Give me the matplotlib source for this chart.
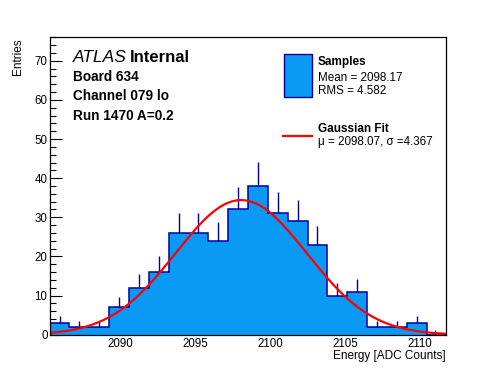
import numpy as np
import matplotlib
matplotlib.use('Agg')
import matplotlib.pyplot as plt
from matplotlib.patches import Rectangle
from matplotlib.lines import Line2D
from matplotlib.ticker import MultipleLocator

plt.rcParams['font.family'] = ['Liberation Sans', 'DejaVu Sans']

# histogram range and counts per bin (20 bins)
x_lo, x_hi = 2085.3, 2111.75
counts = [3, 2, 2, 7, 12, 16, 26, 26, 24, 32, 38, 31, 29, 23, 10, 11, 2, 2, 3, 0]

# gaussian fit
fit_mu = 2098.07
fit_sigma = 4.367
fit_amp = 34.4

mean_txt = 'Mean = 2098.17'
rms_txt = 'RMS = 4.582'
fit_txt = '\u03bc = 2098.07, \u03c3 =4.367'
info_lines = ['Board 634', 'Channel 079 lo', 'Run 1470 A=0.2']

fill_col = '#0a99f5'
edge_col = '#000099'
red = '#ff0000'

W, H = 496, 372
fig = plt.figure(figsize=(W / 100, H / 100), dpi=100)
ax = fig.add_axes([0.1, 0.1, 0.8, 0.8])

counts = np.array(counts, dtype=float)
edges = np.linspace(x_lo, x_hi, len(counts) + 1)
centers = 0.5 * (edges[:-1] + edges[1:])

ax.stairs(counts, edges, fill=True, color=fill_col, zorder=2)
ax.stairs(counts, edges, color=edge_col, lw=1.1, zorder=3)
nz = counts > 0
ax.vlines(centers[nz], counts[nz], counts[nz] + np.sqrt(counts[nz]), color=edge_col, lw=1.0, zorder=3)

xs = np.linspace(x_lo, x_hi, 400)
ax.plot(xs, fit_amp * np.exp(-0.5 * ((xs - fit_mu) / fit_sigma) ** 2), color=red, lw=1.6, zorder=4)

ax.set_xlim(x_lo, x_hi)
ax.set_ylim(0, 76)
ax.xaxis.set_major_locator(MultipleLocator(5))
ax.xaxis.set_minor_locator(MultipleLocator(1))
ax.yaxis.set_major_locator(MultipleLocator(10))
ax.yaxis.set_minor_locator(MultipleLocator(2))
ax.tick_params(which='both', direction='in', width=0.8, labelsize=8.3)
ax.tick_params(axis='x', which='major', length=8, pad=2.5)
ax.tick_params(axis='x', which='minor', length=3.5)
ax.tick_params(axis='y', which='major', length=8.5, pad=1.5)
ax.tick_params(axis='y', which='minor', length=4)
for s in ax.spines.values():
    s.set_linewidth(0.9)
    s.set_zorder(5)


def fx(px):
    return px / W


def fy(py):
    return 1 - py / H


fig.text(fx(18), fy(38), 'Entries', rotation=90, ha='center', va='top', size=8.5)
fig.text(fx(446), fy(359.5), 'Energy [ADC Counts]', ha='right', va='baseline', size=8.5)

fig.text(fx(72.5), fy(61.7), 'ATLAS', style='italic', size=12.5, va='baseline')
fig.text(fx(129.5), fy(61.7), 'Internal', weight='bold', size=12, va='baseline')
for i, line in enumerate(info_lines):
    fig.text(fx(73), fy(80.7 + 19.7 * i), line, weight='bold', size=9.8, va='baseline')

# legend
fig.patches.append(Rectangle((fx(283.5), fy(96.5)), fx(311.5) - fx(283.5), fy(53.5) - fy(96.5),
                             transform=fig.transFigure, facecolor=fill_col, edgecolor=edge_col, lw=1.0))
fig.text(fx(317.5), fy(65), 'Samples', weight='bold', size=8.5, va='baseline')
fig.text(fx(317.5), fy(81), mean_txt, size=8.4, va='baseline')
fig.text(fx(317.5), fy(93.5), rms_txt, size=8.4, va='baseline')
fig.lines.append(Line2D([fx(283), fx(311.5)], [fy(135.5), fy(135.5)], transform=fig.transFigure,
                        color=red, lw=1.6))
fig.text(fx(317.5), fy(132.5), 'Gaussian Fit', weight='bold', size=8.5, va='baseline')
fig.text(fx(317.5), fy(145), fit_txt, size=8.4, va='baseline')

fig.savefig('out.png', dpi=100)
